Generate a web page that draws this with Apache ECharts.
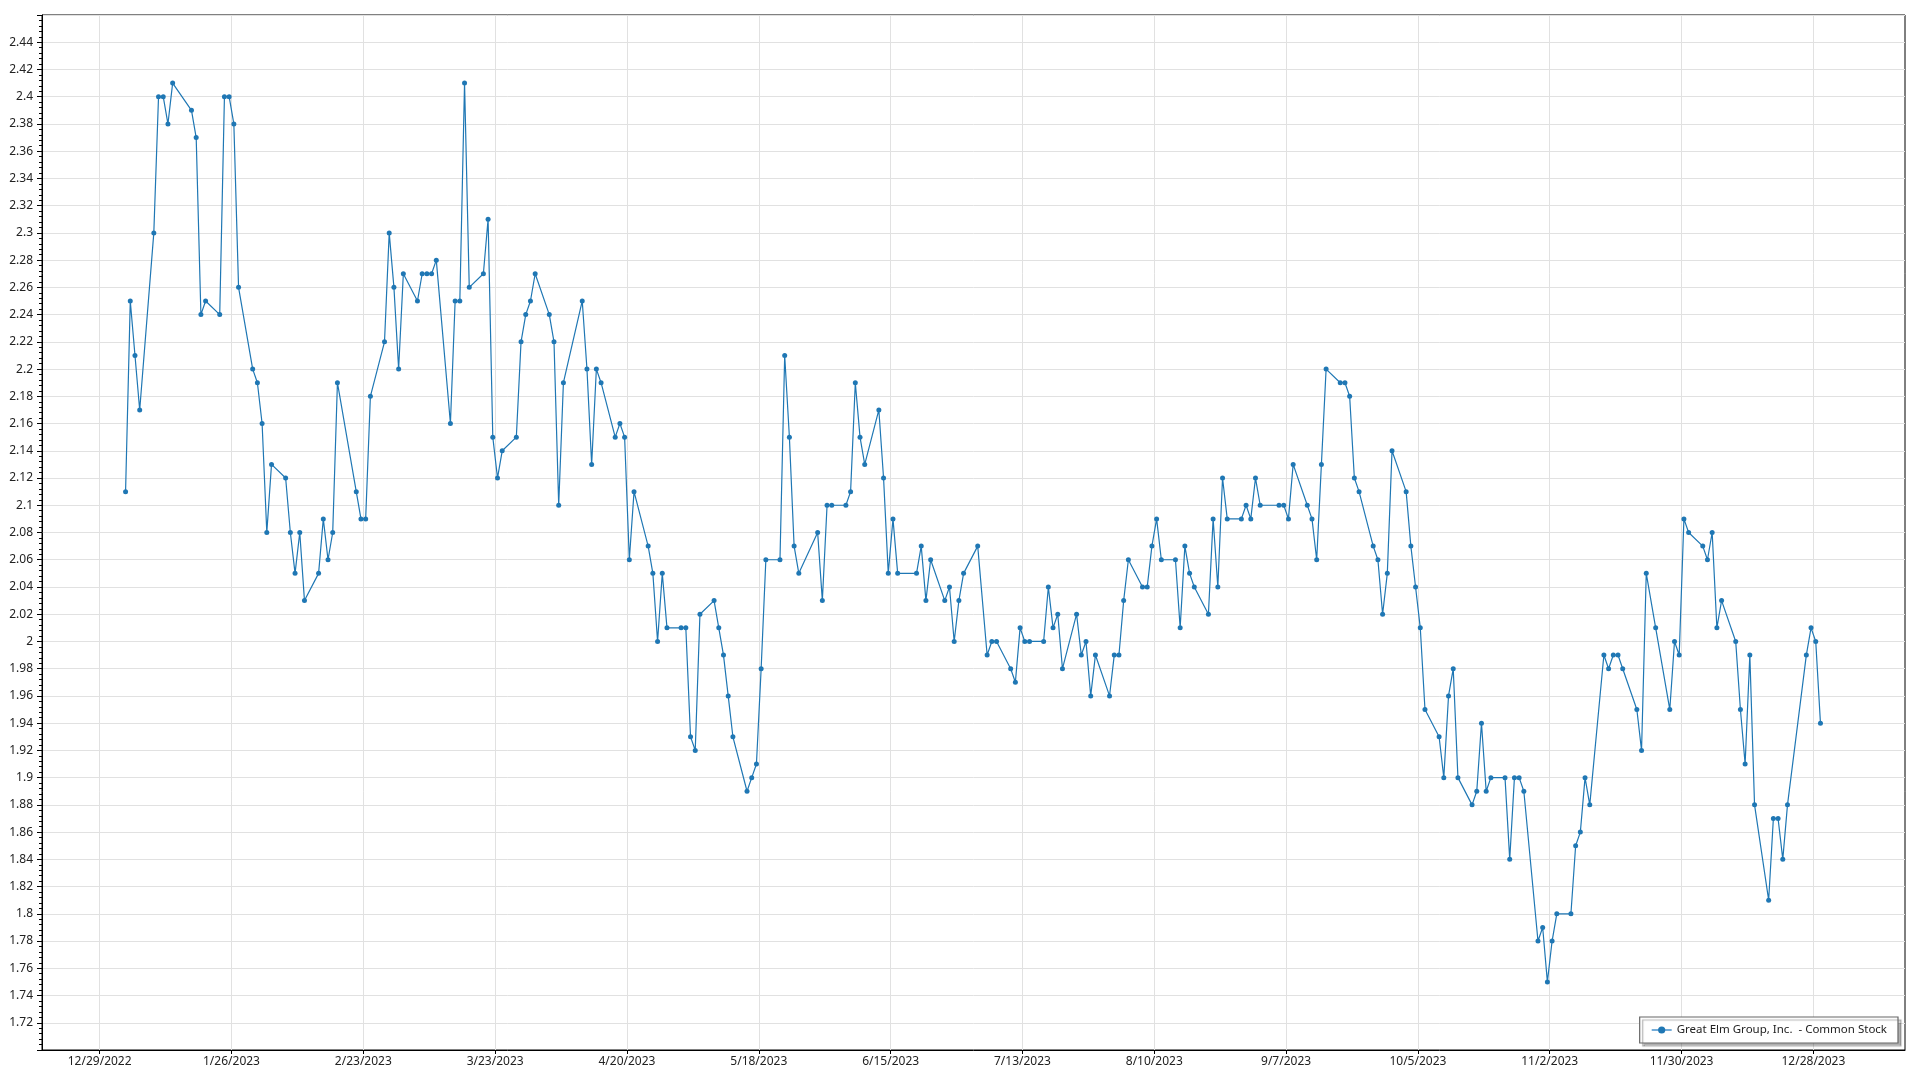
<!DOCTYPE html>
<html>
<head>
<meta charset="utf-8">
<script src="https://cdn.jsdelivr.net/npm/echarts@6/dist/echarts.min.js"></script>
<style>
html,body{margin:0;padding:0;background:#fff;}
#chart{width:1920px;height:1080px;}
</style>
</head>
<body>
<div id="chart"></div>
<script>
// ---- data ----
const tradeDates = [
 '2023-01-03','2023-01-04','2023-01-05','2023-01-06','2023-01-09','2023-01-10','2023-01-11','2023-01-12','2023-01-13','2023-01-17',
 '2023-01-18','2023-01-19','2023-01-20','2023-01-23','2023-01-24','2023-01-25','2023-01-26','2023-01-27','2023-01-30','2023-01-31',
 '2023-02-01','2023-02-02','2023-02-03','2023-02-06','2023-02-07','2023-02-08','2023-02-09','2023-02-10','2023-02-13','2023-02-14',
 '2023-02-15','2023-02-16','2023-02-17','2023-02-21','2023-02-22','2023-02-23','2023-02-24','2023-02-27','2023-02-28',
 '2023-03-01','2023-03-02','2023-03-03','2023-03-06','2023-03-07','2023-03-08','2023-03-09','2023-03-10','2023-03-13','2023-03-14',
 '2023-03-15','2023-03-16','2023-03-17','2023-03-20','2023-03-21','2023-03-22','2023-03-23','2023-03-24','2023-03-27','2023-03-28',
 '2023-03-29','2023-03-30','2023-03-31',
 '2023-04-03','2023-04-04','2023-04-05','2023-04-06','2023-04-10','2023-04-11','2023-04-12','2023-04-13','2023-04-14','2023-04-17',
 '2023-04-18','2023-04-19','2023-04-20','2023-04-21','2023-04-24','2023-04-25','2023-04-26','2023-04-27','2023-04-28',
 '2023-05-01','2023-05-02','2023-05-03','2023-05-04','2023-05-05','2023-05-08','2023-05-09','2023-05-10','2023-05-11','2023-05-12',
 '2023-05-15','2023-05-16','2023-05-17','2023-05-18','2023-05-19','2023-05-22','2023-05-23','2023-05-24','2023-05-25','2023-05-26',
 '2023-05-30','2023-05-31',
 '2023-06-01','2023-06-02','2023-06-05','2023-06-06','2023-06-07','2023-06-08','2023-06-09','2023-06-12','2023-06-13','2023-06-14',
 '2023-06-15','2023-06-16','2023-06-20','2023-06-21','2023-06-22','2023-06-23','2023-06-26','2023-06-27','2023-06-28','2023-06-29',
 '2023-06-30',
 '2023-07-03','2023-07-05','2023-07-06','2023-07-07','2023-07-10','2023-07-11','2023-07-12','2023-07-13','2023-07-14','2023-07-17',
 '2023-07-18','2023-07-19','2023-07-20','2023-07-21','2023-07-24','2023-07-25','2023-07-26','2023-07-27','2023-07-28','2023-07-31',
 '2023-08-01','2023-08-02','2023-08-03','2023-08-04','2023-08-07','2023-08-08','2023-08-09','2023-08-10','2023-08-11','2023-08-14',
 '2023-08-15','2023-08-16','2023-08-17','2023-08-18','2023-08-21','2023-08-22','2023-08-23','2023-08-24','2023-08-25','2023-08-28',
 '2023-08-29','2023-08-30','2023-08-31',
 '2023-09-01','2023-09-05','2023-09-06','2023-09-07','2023-09-08','2023-09-11','2023-09-12','2023-09-13','2023-09-14','2023-09-15',
 '2023-09-18','2023-09-19','2023-09-20','2023-09-21','2023-09-22','2023-09-25','2023-09-26','2023-09-27','2023-09-28','2023-09-29',
 '2023-10-02','2023-10-03','2023-10-04','2023-10-05','2023-10-06','2023-10-09','2023-10-10','2023-10-11','2023-10-12','2023-10-13',
 '2023-10-16','2023-10-17','2023-10-18','2023-10-19','2023-10-20','2023-10-23','2023-10-24','2023-10-25','2023-10-26','2023-10-27',
 '2023-10-30','2023-10-31',
 '2023-11-01','2023-11-02','2023-11-03','2023-11-06','2023-11-07','2023-11-08','2023-11-09','2023-11-10','2023-11-13','2023-11-14',
 '2023-11-15','2023-11-16','2023-11-17','2023-11-20','2023-11-21','2023-11-22','2023-11-24','2023-11-27','2023-11-28','2023-11-29',
 '2023-11-30',
 '2023-12-01','2023-12-04','2023-12-05','2023-12-06','2023-12-07','2023-12-08','2023-12-11','2023-12-12','2023-12-13','2023-12-14',
 '2023-12-15','2023-12-18','2023-12-19','2023-12-20','2023-12-21','2023-12-22','2023-12-26','2023-12-27','2023-12-28','2023-12-29'
];

const closePrices = [
 2.11,2.25,2.21,2.17,2.30,2.40,2.40,2.38,2.41,2.39,
 2.37,2.24,2.25,2.24,2.40,2.40,2.38,2.26,2.20,2.19,
 2.16,2.08,2.13,2.12,2.08,2.05,2.08,2.03,2.05,2.09,
 2.06,2.08,2.19,2.11,2.09,2.09,2.18,2.22,2.30,
 2.26,2.20,2.27,2.25,2.27,2.27,2.27,2.28,2.16,2.25,
 2.25,2.41,2.26,2.27,2.31,2.15,2.12,2.14,2.15,2.22,
 2.24,2.25,2.27,
 2.24,2.22,2.10,2.19,2.25,2.20,2.13,2.20,2.19,2.15,
 2.16,2.15,2.06,2.11,2.07,2.05,2.00,2.05,2.01,
 2.01,2.01,1.93,1.92,2.02,2.03,2.01,1.99,1.96,1.93,
 1.89,1.90,1.91,1.98,2.06,2.06,2.21,2.15,2.07,2.05,
 2.08,2.03,
 2.10,2.10,2.10,2.11,2.19,2.15,2.13,2.17,2.12,2.05,
 2.09,2.05,2.05,2.07,2.03,2.06,2.03,2.04,2.00,2.03,
 2.05,
 2.07,1.99,2.00,2.00,1.98,1.97,2.01,2.00,2.00,2.00,
 2.04,2.01,2.02,1.98,2.02,1.99,2.00,1.96,1.99,1.96,
 1.99,1.99,2.03,2.06,2.04,2.04,2.07,2.09,2.06,2.06,
 2.01,2.07,2.05,2.04,2.02,2.09,2.04,2.12,2.09,2.09,
 2.10,2.09,2.12,
 2.10,2.10,2.10,2.09,2.13,2.10,2.09,2.06,2.13,2.20,
 2.19,2.19,2.18,2.12,2.11,2.07,2.06,2.02,2.05,2.14,
 2.11,2.07,2.04,2.01,1.95,1.93,1.90,1.96,1.98,1.90,
 1.88,1.89,1.94,1.89,1.90,1.90,1.84,1.90,1.90,1.89,
 1.78,1.79,
 1.75,1.78,1.80,1.80,1.85,1.86,1.90,1.88,1.99,1.98,
 1.99,1.99,1.98,1.95,1.92,2.05,2.01,1.95,2.00,1.99,
 2.09,
 2.08,2.07,2.06,2.08,2.01,2.03,2.00,1.95,1.91,1.99,
 1.88,1.81,1.87,1.87,1.84,1.88,1.99,2.01,2.00,1.94
];

const xTickLabels = [
 '12/29/2022','1/26/2023','2/23/2023','3/23/2023','4/20/2023','5/18/2023','6/15/2023',
 '7/13/2023','8/10/2023','9/7/2023','10/5/2023','11/2/2023','11/30/2023','12/28/2023'
];

const seriesName = 'Great Elm Group, Inc.  - Common Stock';

// ---- build ----
function parseMDY(s) {
  const p = s.split('/').map(Number);
  return new Date(p[2], p[0] - 1, p[1]).getTime();
}
function fmtMDY(v) {
  const d = new Date(v);
  return (d.getMonth() + 1) + '/' + d.getDate() + '/' + d.getFullYear();
}
const xTicks = xTickLabels.map(parseMDY);
const seriesData = tradeDates.map((d, i) => [new Date(d + 'T12:00:00').getTime(), closePrices[i]]);

const xMin = new Date(2022, 11, 16, 18).getTime();
const xMax = new Date(2024, 0, 16, 11).getTime();

const FONT = '"Noto Sans", "Open Sans", sans-serif';
const BLUE = '#1f77b4';
const GRID_COLOR = '#e1e1e1';

const chart = echarts.init(document.getElementById('chart'), null, {renderer: 'canvas'});
chart.setOption({
  animation: false,
  backgroundColor: '#ffffff',
  textStyle: {fontFamily: FONT},
  grid: {
    left: 42, right: 15, top: 15, bottom: 30,
    show: true, borderColor: '#000', borderWidth: 1,
    outerBoundsMode: 'none'
  },
  legend: {
    right: 22, bottom: 37,
    backgroundColor: '#fff',
    borderColor: '#666', borderWidth: 1.2, borderRadius: 0,
    padding: [7, 11],
    itemWidth: 20, itemHeight: 9,
    shadowColor: 'rgba(0,0,0,0.3)', shadowBlur: 1, shadowOffsetX: 3, shadowOffsetY: 3,
    lineStyle: {color: '#74acd8', width: 2},
    itemStyle: {color: BLUE},
    textStyle: {fontSize: 11.5, color: '#222', fontFamily: FONT},
    data: [seriesName]
  },
  xAxis: {
    type: 'value',
    min: xMin, max: xMax,
    scale: true,
    axisLine: {show: true, lineStyle: {color: '#000', width: 1}},
    axisTick: {show: true, length: 4, customValues: xTicks, lineStyle: {color: '#000'}},
    axisLabel: {
      customValues: xTicks,
      formatter: fmtMDY,
      color: '#222', fontSize: 12, fontFamily: FONT, margin: 6,
      showMinLabel: true, showMaxLabel: true
    },
    splitLine: {show: true, lineStyle: {color: GRID_COLOR, width: 1}},
    minorTick: {show: false}
  },
  yAxis: {
    type: 'value',
    min: 1.70, max: 2.46, interval: 0.02,
    axisLine: {show: true, lineStyle: {color: '#000', width: 1}},
    axisTick: {show: true, length: 5, lineStyle: {color: '#000'}},
    minorTick: {show: true, splitNumber: 5, length: 3, lineStyle: {color: '#000'}},
    axisLabel: {
      showMinLabel: false, showMaxLabel: false,
      color: '#222', fontSize: 12, fontFamily: FONT, margin: 9
    },
    splitLine: {show: true, lineStyle: {color: GRID_COLOR, width: 1}}
  },
  series: [{
    type: 'line',
    name: seriesName,
    data: seriesData,
    symbol: 'circle',
    symbolSize: 5,
    showSymbol: true,
    showAllSymbol: true,
    lineStyle: {color: BLUE, width: 1.2},
    itemStyle: {color: BLUE},
    emphasis: {disabled: true}
  }]
});
</script>
</body>
</html>
